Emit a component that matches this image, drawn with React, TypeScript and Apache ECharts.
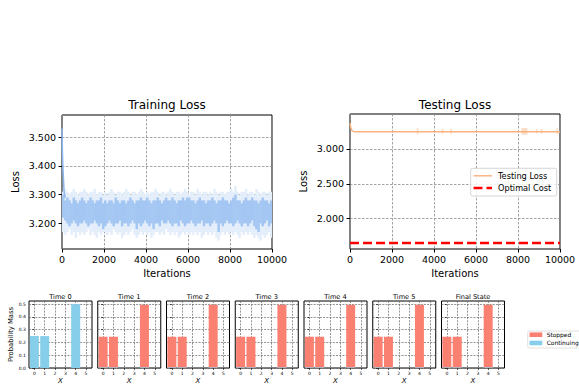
import React, { useEffect, useRef } from 'react';
import * as echarts from 'echarts';

const FONT = 'DejaVu Sans';

// ---- Training loss (noisy band, sampled every trainStep iterations) ----
const trainStep = 100;
const trainInnerHigh = [
  3.30, 3.28, 3.29, 3.28, 3.27, 3.29, 3.28, 3.27, 3.28, 3.29,
  3.28, 3.27, 3.28, 3.29, 3.28, 3.27, 3.28, 3.28, 3.29, 3.27,
  3.28, 3.27, 3.28, 3.28, 3.27, 3.29, 3.28, 3.27, 3.28, 3.28,
  3.27, 3.28, 3.29, 3.28, 3.27, 3.28, 3.28, 3.29, 3.28, 3.28,
  3.29, 3.28, 3.27, 3.28, 3.28, 3.29, 3.28, 3.27, 3.28, 3.29,
  3.28, 3.28, 3.29, 3.28, 3.27, 3.28, 3.28, 3.29, 3.28, 3.29,
  3.29, 3.28, 3.28, 3.27, 3.28, 3.29, 3.28, 3.28, 3.27, 3.28,
  3.28, 3.29, 3.28, 3.27, 3.28, 3.28, 3.29, 3.28, 3.28, 3.27,
  3.28, 3.29, 3.30, 3.28, 3.28, 3.27, 3.28, 3.29, 3.28, 3.28,
  3.29, 3.28, 3.28, 3.27, 3.28, 3.29, 3.28, 3.28, 3.27, 3.28,
];
const trainInnerLow = [
  3.22, 3.21, 3.20, 3.19, 3.20, 3.21, 3.20, 3.19, 3.20, 3.20,
  3.21, 3.20, 3.19, 3.20, 3.20, 3.21, 3.20, 3.19, 3.20, 3.18,
  3.19, 3.20, 3.21, 3.20, 3.19, 3.20, 3.20, 3.21, 3.19, 3.20,
  3.20, 3.19, 3.20, 3.21, 3.20, 3.18, 3.20, 3.19, 3.20, 3.21,
  3.20, 3.19, 3.20, 3.18, 3.20, 3.20, 3.19, 3.21, 3.20, 3.20,
  3.21, 3.20, 3.19, 3.20, 3.20, 3.19, 3.21, 3.20, 3.19, 3.20,
  3.20, 3.21, 3.20, 3.19, 3.20, 3.20, 3.21, 3.19, 3.20, 3.20,
  3.19, 3.20, 3.21, 3.20, 3.17, 3.20, 3.19, 3.20, 3.21, 3.20,
  3.20, 3.19, 3.20, 3.21, 3.20, 3.19, 3.20, 3.20, 3.19, 3.20,
  3.21, 3.19, 3.18, 3.17, 3.20, 3.19, 3.20, 3.21, 3.19, 3.20,
];
const trainOuterHigh = [
  3.31, 3.32, 3.31, 3.30, 3.31, 3.32, 3.31, 3.30, 3.31, 3.31,
  3.32, 3.31, 3.30, 3.31, 3.31, 3.32, 3.30, 3.31, 3.31, 3.30,
  3.31, 3.30, 3.31, 3.32, 3.31, 3.30, 3.31, 3.31, 3.30, 3.31,
  3.32, 3.31, 3.30, 3.31, 3.31, 3.30, 3.31, 3.32, 3.31, 3.30,
  3.31, 3.30, 3.31, 3.31, 3.32, 3.31, 3.30, 3.31, 3.31, 3.30,
  3.31, 3.32, 3.31, 3.30, 3.31, 3.31, 3.30, 3.31, 3.32, 3.31,
  3.30, 3.31, 3.31, 3.30, 3.32, 3.31, 3.30, 3.31, 3.31, 3.30,
  3.31, 3.30, 3.32, 3.31, 3.30, 3.31, 3.31, 3.30, 3.31, 3.31,
  3.32, 3.31, 3.33, 3.31, 3.30, 3.31, 3.31, 3.32, 3.30, 3.31,
  3.31, 3.30, 3.32, 3.31, 3.30, 3.31, 3.31, 3.30, 3.31, 3.31,
];
const trainOuterLow = [
  3.17, 3.16, 3.17, 3.18, 3.16, 3.17, 3.15, 3.17, 3.16, 3.17,
  3.16, 3.17, 3.18, 3.16, 3.17, 3.16, 3.15, 3.17, 3.16, 3.17,
  3.17, 3.16, 3.17, 3.16, 3.18, 3.17, 3.16, 3.17, 3.15, 3.16,
  3.17, 3.16, 3.17, 3.18, 3.16, 3.15, 3.16, 3.17, 3.16, 3.17,
  3.16, 3.17, 3.15, 3.16, 3.17, 3.17, 3.16, 3.17, 3.16, 3.18,
  3.17, 3.16, 3.17, 3.16, 3.17, 3.15, 3.16, 3.17, 3.16, 3.17,
  3.16, 3.17, 3.16, 3.17, 3.16, 3.17, 3.15, 3.16, 3.17, 3.16,
  3.17, 3.16, 3.17, 3.15, 3.14, 3.16, 3.17, 3.16, 3.17, 3.16,
  3.17, 3.16, 3.17, 3.16, 3.15, 3.17, 3.16, 3.17, 3.16, 3.17,
  3.16, 3.15, 3.16, 3.15, 3.14, 3.16, 3.15, 3.16, 3.17, 3.15,
];
const warmupIters = [0, 20, 40, 60, 80, 100, 150];
const warmupLoss = [3.53, 3.45, 3.40, 3.37, 3.34, 3.31, 3.29];
const trainYTicks = [3.2, 3.3, 3.4, 3.5];

// ---- Testing loss ----
const testIters = [0, 40, 100, 200, 10000];
const testLoss = [3.37, 3.30, 3.26, 3.248, 3.248];
const spikeStart = [3180, 4370, 4770, 8160, 8850, 9090, 9830];
const spikeEnd = [3240, 4430, 4830, 8430, 8900, 9140, 9880];
const spikeLow = [3.21, 3.22, 3.22, 3.205, 3.22, 3.22, 3.21];
const spikeHigh = [3.30, 3.29, 3.29, 3.30, 3.29, 3.29, 3.30];
const optimalCost = 1.651;
const testYTicks = [2.0, 2.5, 3.0];

// ---- Distribution panels ----
const panelTitles = ['Time 0', 'Time 1', 'Time 2', 'Time 3', 'Time 4', 'Time 5', 'Final State'];
const stateTicks = [0, 1, 2, 3, 4, 5];
const barX = [0, 1, 4];
const stoppedMass = [
  [0, 0, 0],
  [0.245, 0.245, 0.495],
  [0.245, 0.245, 0.495],
  [0.245, 0.245, 0.495],
  [0.245, 0.245, 0.495],
  [0.245, 0.245, 0.495],
  [0.245, 0.245, 0.495],
];
const continuingMass = [
  [0.25, 0.25, 0.5],
  [0.005, 0.005, 0.005],
  [0.005, 0.005, 0.005],
  [0.005, 0.005, 0.005],
  [0.005, 0.005, 0.005],
  [0.005, 0.005, 0.005],
  [0.005, 0.005, 0.005],
];
const probTicks = [0, 0.1, 0.2, 0.3, 0.4, 0.5];

const STOP = '#fa8072';
const CONT = '#87ceeb';

export default function App() {
  const ref = useRef<HTMLDivElement>(null);
  useEffect(() => {
    if (!ref.current) return;
    const chart = echarts.init(ref.current, null, { renderer: 'svg' });

    const gridLine = { show: true, lineStyle: { color: '#8a8a8a', width: 0.8, type: [2.5, 1.5] } };
    const smallGridLine = { show: true, lineStyle: { color: '#666', width: 0.7, type: [2, 1.2] } };

    const bandRender = (color: string) => (params: any, api: any) => {
      const x0 = api.value(0), x1 = api.value(1), lo = api.value(2), hi = api.value(3);
      const a = api.coord([x0, hi]);
      const b = api.coord([x1, lo]);
      return {
        type: 'rect',
        shape: { x: a[0], y: a[1], width: b[0] - a[0] + 0.4, height: b[1] - a[1] },
        style: { fill: color },
      };
    };

    const outerData = trainOuterLow.map((lo, i) => [i * trainStep, (i + 1) * trainStep, lo, trainOuterHigh[i]]);
    const innerData = trainInnerLow.map((lo, i) => [i * trainStep, (i + 1) * trainStep, lo, trainInnerHigh[i]]);
    const spikeData = spikeStart.map((s, i) => [s, spikeEnd[i], spikeLow[i], spikeHigh[i]]);

    const grids: any[] = [
      { left: 62, top: 115, width: 210, height: 134 },
      { left: 350, top: 114, width: 210, height: 135 },
    ];
    const panelLeft = (k: number) => 29 + k * 68.75;
    panelTitles.forEach((_, k) => grids.push({ left: panelLeft(k), top: 301, width: 63, height: 67 }));
    grids.forEach((g) => Object.assign(g, { show: true, borderColor: '#000', borderWidth: 1, backgroundColor: 'transparent', containLabel: false }));

    const mainX = (gi: number) => ({
      gridIndex: gi, type: 'value', min: 0, max: 10000, interval: 2000,
      name: 'Iterations', nameLocation: 'middle', nameGap: 19,
      nameTextStyle: { fontSize: 10, fontFamily: FONT, color: '#000' },
      axisLabel: { fontSize: 9.5, fontFamily: FONT, color: '#000', margin: 5, formatter: (v: number) => String(v) },
      axisTick: { show: true, length: 3.5, lineStyle: { color: '#000' } },
      axisLine: { show: false },
      splitLine: gridLine,
    });
    const mainY = (gi: number, min: number, max: number, ticks: number[]) => ({
      gridIndex: gi, type: 'value', min, max,
      name: 'Loss', nameLocation: 'middle', nameGap: 42,
      nameTextStyle: { fontSize: 10, fontFamily: FONT, color: '#000' },
      axisLabel: { customValues: ticks, fontSize: 9.5, fontFamily: FONT, color: '#000', margin: 6, formatter: (v: number) => v.toFixed(3) },
      axisTick: { show: true, customValues: ticks, length: 3.5, lineStyle: { color: '#000' } },
      axisLine: { show: false },
      splitLine: gridLine,
    });

    const xAxis: any[] = [mainX(0), mainX(1)];
    const yAxis: any[] = [mainY(0, 3.111, 3.577, trainYTicks), mainY(1, 1.565, 3.502, testYTicks)];

    const series: any[] = [
      { type: 'custom', xAxisIndex: 0, yAxisIndex: 0, renderItem: bandRender('#e4eefb'), data: outerData, encode: { x: [0, 1], y: [2, 3] }, clip: true, silent: true },
      { type: 'custom', xAxisIndex: 0, yAxisIndex: 0, renderItem: bandRender('#a3c6f2'), data: innerData, encode: { x: [0, 1], y: [2, 3] }, clip: true, silent: true },
      { type: 'line', xAxisIndex: 0, yAxisIndex: 0, data: warmupIters.map((x, i) => [x, warmupLoss[i]]), symbol: 'none', lineStyle: { color: '#8db7ee', width: 1.5 }, clip: true },
      { type: 'custom', xAxisIndex: 1, yAxisIndex: 1, renderItem: bandRender('#fcdcc6'), data: spikeData, encode: { x: [0, 1], y: [2, 3] }, clip: true, silent: true },
      { type: 'line', xAxisIndex: 1, yAxisIndex: 1, data: testIters.map((x, i) => [x, testLoss[i]]), symbol: 'none', lineStyle: { color: '#f9b17e', width: 1.4 }, clip: true },
      { type: 'line', xAxisIndex: 1, yAxisIndex: 1, data: [[0, optimalCost], [10000, optimalCost]], symbol: 'none', lineStyle: { color: '#ff0000', width: 2.5, type: [9, 4] }, clip: true },
    ];

    panelTitles.forEach((_, k) => {
      const gi = k + 2;
      xAxis.push({
        gridIndex: gi, type: 'value', min: -0.52, max: 5.58,
        name: 'X', nameLocation: 'middle', nameGap: 9.5,
        nameTextStyle: { fontSize: 7, fontStyle: 'italic', fontFamily: FONT, color: '#000' },
        axisLabel: { customValues: stateTicks, fontSize: 4.5, fontFamily: FONT, color: '#000', margin: 2.5 },
        axisTick: { show: true, customValues: stateTicks, length: 2, lineStyle: { color: '#000', width: 0.6 } },
        axisLine: { show: false },
        splitLine: smallGridLine,
      });
      yAxis.push({
        gridIndex: gi, type: 'value', min: 0, max: 0.525,
        name: k === 0 ? 'Probability Mass' : '', nameLocation: 'middle', nameGap: 14.5,
        nameTextStyle: { fontSize: 6.8, fontFamily: FONT, color: '#000' },
        axisLabel: { show: k === 0, customValues: probTicks, fontSize: 4.5, fontFamily: FONT, color: '#000', margin: 3, formatter: (v: number) => v.toFixed(1) },
        axisTick: { show: true, customValues: probTicks, length: 2, lineStyle: { color: '#000', width: 0.6 } },
        axisLine: { show: false },
        splitLine: smallGridLine,
      });
      series.push({
        type: 'bar', name: 'Stopped', xAxisIndex: gi, yAxisIndex: gi, stack: 'p' + k, barWidth: 9,
        data: barX.map((x, i) => [x, stoppedMass[k][i]]), itemStyle: { color: STOP },
      });
      series.push({
        type: 'bar', name: 'Continuing', xAxisIndex: gi, yAxisIndex: gi, stack: 'p' + k, barWidth: 9,
        data: barX.map((x, i) => [x, continuingMass[k][i]]), itemStyle: { color: CONT },
      });
    });

    const graphic: any[] = [
      { type: 'text', x: 167, y: 105, style: { text: 'Training Loss', font: `12px "${FONT}"`, fill: '#000', textAlign: 'center', textVerticalAlign: 'middle' } },
      { type: 'text', x: 455, y: 105, style: { text: 'Testing Loss', font: `12px "${FONT}"`, fill: '#000', textAlign: 'center', textVerticalAlign: 'middle' } },
      // testing legend
      { type: 'rect', shape: { x: 470.7, y: 168.3, width: 86, height: 27.7, r: 2 }, style: { fill: 'rgba(255,255,255,0.85)', stroke: '#cccccc', lineWidth: 0.8 }, z: 10 },
      { type: 'line', shape: { x1: 473.5, y1: 175.8, x2: 492, y2: 175.8 }, style: { stroke: '#f9b17e', lineWidth: 1.4 }, z: 11 },
      { type: 'text', x: 498, y: 175.8, style: { text: 'Testing Loss', font: `8.2px "${FONT}"`, fill: '#000', textVerticalAlign: 'middle' }, z: 11 },
      { type: 'line', shape: { x1: 473.5, y1: 188, x2: 492, y2: 188 }, style: { stroke: '#ff0000', lineWidth: 2.5, lineDash: [9, 4] }, z: 11 },
      { type: 'text', x: 498, y: 188, style: { text: 'Optimal Cost', font: `8.2px "${FONT}"`, fill: '#000', textVerticalAlign: 'middle' }, z: 11 },
      // distribution legend
      { type: 'rect', shape: { x: 527.7, y: 331, width: 55, height: 17, r: 1.5 }, style: { fill: '#fff', stroke: '#cccccc', lineWidth: 0.6 }, z: 10 },
      { type: 'rect', shape: { x: 529.5, y: 332.4, width: 12.8, height: 4.6 }, style: { fill: STOP }, z: 11 },
      { type: 'text', x: 546.7, y: 334.7, style: { text: 'Stopped', font: `5.9px "${FONT}"`, fill: '#000', textVerticalAlign: 'middle' }, z: 11 },
      { type: 'rect', shape: { x: 529.5, y: 340.7, width: 12.8, height: 4.6 }, style: { fill: CONT }, z: 11 },
      { type: 'text', x: 546.7, y: 343.2, style: { text: 'Continuing', font: `5.9px "${FONT}"`, fill: '#000', textVerticalAlign: 'middle' }, z: 11 },
    ];
    panelTitles.forEach((t, k) => {
      graphic.push({ type: 'text', x: panelLeft(k) + 31.5, y: 296.7, style: { text: t, font: `6.6px "${FONT}"`, fill: '#000', textAlign: 'center', textVerticalAlign: 'middle' } });
    });

    chart.setOption({
      animation: false,
      backgroundColor: '#fff',
      textStyle: { fontFamily: FONT },
      grid: grids,
      xAxis,
      yAxis,
      series,
      graphic,
    });
    return () => chart.dispose();
  }, []);
  return <div ref={ref} style={{ position: 'fixed', left: 0, top: 0, width: 579, height: 387 }} />;
}
